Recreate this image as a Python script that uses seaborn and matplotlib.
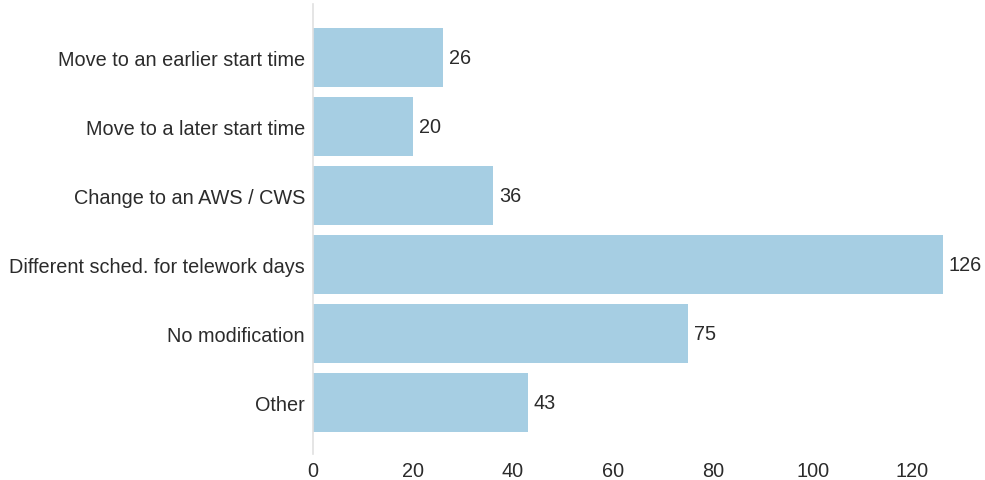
import matplotlib
matplotlib.use("Agg")
import matplotlib.pyplot as plt
import seaborn as sns
import pandas as pd

categories = ["Move to an earlier start time", "Move to a later start time",
              "Change to an AWS / CWS", "Different sched. for telework days",
              "No modification", "Other"]
values = [26, 20, 36, 126, 75, 43]
xticks = [0, 20, 40, 60, 80, 100, 120]

sns.set_theme(style="white")
plt.rcParams['font.family'] = ['Liberation Sans', 'DejaVu Sans']

df = pd.DataFrame({"category": categories, "value": values})

fig = plt.figure(figsize=(9.85, 4.81), dpi=100)
ax = fig.add_axes([313/985, 1-455/481, (974-313)/985, (455-5)/481])
sns.barplot(data=df, x="value", y="category", color="#a6cee3", saturation=1,
            width=0.855, linewidth=0, ax=ax)
for c in ax.containers:
    ax.bar_label(c, labels=[str(v) for v in values], padding=4.3,
                 fontsize=14.3, color="#2b2b2b")
ax.set_xlim(0, 132.3)
ax.set_ylim(5.75, -0.77)
ax.set_xticks(xticks)
ax.set_xticklabels([str(t) for t in xticks])
ax.set_xlabel("")
ax.set_ylabel("")
ax.tick_params(axis="both", length=0, labelsize=14.3, colors="#2b2b2b")
ax.tick_params(axis="y", pad=5.8)
ax.tick_params(axis="x", pad=5)
for s in ["top", "right", "bottom"]:
    ax.spines[s].set_visible(False)
ax.spines["left"].set_color("#e0e0e0")
ax.spines["left"].set_linewidth(1.2)
fig.savefig("out.png", dpi=100)
